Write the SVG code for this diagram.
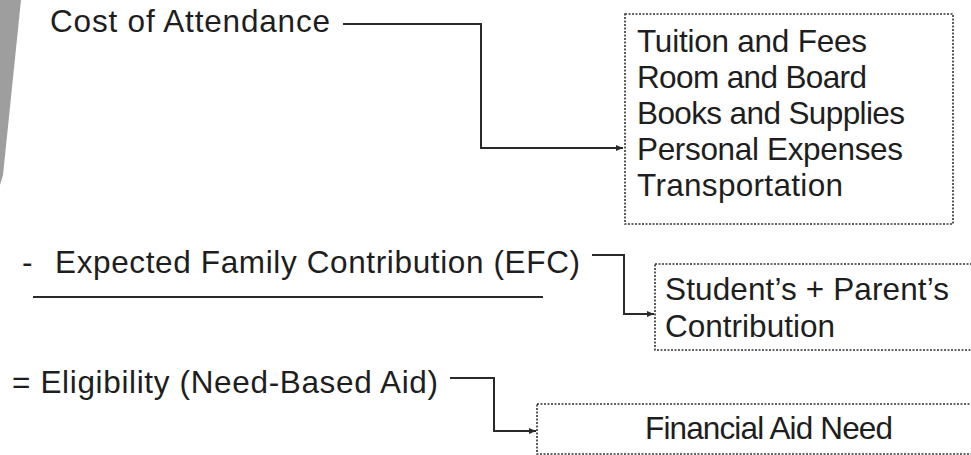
<svg xmlns="http://www.w3.org/2000/svg" width="971" height="455" viewBox="0 0 971 455">
<style>
.t{font-family:"Liberation Sans",Arial,sans-serif;font-size:31.5px;fill:#1e1e1e}
.c{fill:none;stroke:#2a2a2a;stroke-width:2}
.b{fill:none;stroke:#333;stroke-width:1.6;stroke-dasharray:2 1.5}
</style>
<defs>
<marker id="ah" markerUnits="userSpaceOnUse" markerWidth="8" markerHeight="8" refX="7" refY="4" orient="auto">
<path d="M0,1 L7,4 L0,7 Z" fill="#2a2a2a"/>
</marker>
</defs>
<rect width="971" height="455" fill="#fff"/>
<polygon points="0,0 21,0 3,175 0,185" fill="#9e9e9e"/>
<g id="cost">
<text class="t" x="50" y="32" textLength="280" lengthAdjust="spacing">Cost of Attendance</text>
</g>
<g id="costItems">
<rect class="b" x="625" y="14" width="328" height="210"/>
<text class="t" x="637" y="52" textLength="230" lengthAdjust="spacing">Tuition and Fees</text>
<text class="t" x="637" y="88" textLength="230" lengthAdjust="spacing">Room and Board</text>
<text class="t" x="637" y="124" textLength="268" lengthAdjust="spacing">Books and Supplies</text>
<text class="t" x="637" y="160" textLength="266" lengthAdjust="spacing">Personal Expenses</text>
<text class="t" x="637" y="196" textLength="206" lengthAdjust="spacing">Transportation</text>
</g>
<g id="efc">
<text class="t" x="22" y="273">-</text>
<text class="t" x="55" y="273" textLength="525" lengthAdjust="spacing">Expected Family Contribution (EFC)</text>
<line x1="33" y1="297" x2="543" y2="297" stroke="#2a2a2a" stroke-width="2"/>
</g>
<g id="contrib">
<rect class="b" x="655" y="264" width="330" height="86"/>
<text class="t" x="665" y="300" textLength="284" lengthAdjust="spacing">Student’s + Parent’s</text>
<text class="t" x="665" y="337" textLength="170" lengthAdjust="spacing">Contribution</text>
</g>
<g id="elig">
<text class="t" x="12" y="393" textLength="426" lengthAdjust="spacing">= Eligibility (Need-Based Aid)</text>
</g>
<g id="need">
<rect class="b" x="537" y="404" width="450" height="50"/>
<text class="t" x="645" y="439" textLength="248" lengthAdjust="spacing">Financial Aid Need</text>
</g>
<g id="connectors">
<path class="c" d="M343,24 H481 V148 H623" marker-end="url(#ah)"/>
<path class="c" d="M592,255 H624 V314 H654" marker-end="url(#ah)"/>
<path class="c" d="M450,378 H494 V431 H536" marker-end="url(#ah)"/>
</g>
</svg>
